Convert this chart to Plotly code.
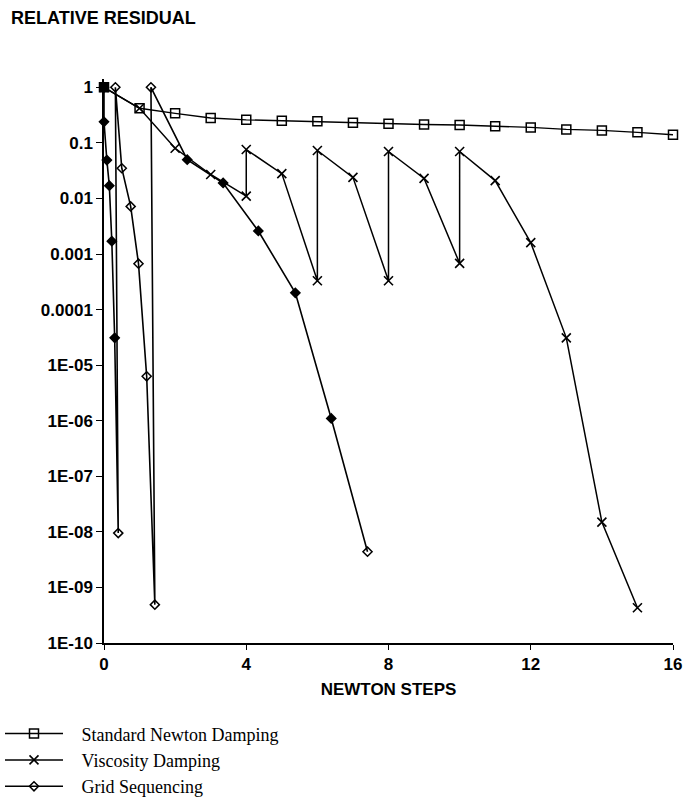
import plotly.graph_objects as go

# ---- data ----
newton_x = [0, 1, 2, 3, 4, 5, 6, 7, 8, 9, 10, 11, 12, 13, 14, 15, 16]
newton_y = [1.0, 0.42, 0.34, 0.28, 0.26, 0.25, 0.245, 0.23, 0.22, 0.215, 0.21,
            0.20, 0.19, 0.175, 0.168, 0.155, 0.14]

visc_x = [0, 1, 2, 3, 4, 4, 5, 6, 6, 7, 8, 8, 9, 10, 10, 11, 12, 13, 14, 15]
visc_y = [1.0, 0.42, 0.08, 0.027, 0.011, 0.076, 0.028, 0.00033, 0.073, 0.024,
          0.00033, 0.07, 0.023, 0.00068, 0.07, 0.021, 0.0016, 3.1e-5, 1.5e-8, 4.3e-10]

grid_x = [0, 0.0, 0.08, 0.15, 0.22, 0.3, 0.4, 0.32, 0.5, 0.75, 0.97, 1.2, 1.43,
          1.32, 2.34, 3.35, 4.34, 5.38, 6.39, 7.41]
grid_y = [1.0, 0.24, 0.049, 0.017, 0.0017, 3.1e-5, 9.5e-9, 1.0, 0.035, 0.0072,
          0.00067, 6.3e-6, 4.9e-10, 1.0, 0.05, 0.019, 0.0026, 0.0002, 1.1e-6, 4.4e-9]

x_ticks = [0, 4, 8, 12, 16]
y_tickvals = [1, 0.1, 0.01, 0.001, 0.0001, 1e-5, 1e-6, 1e-7, 1e-8, 1e-9, 1e-10]
y_ticktext = ["1", "0.1", "0.01", "0.001", "0.0001", "1E-05", "1E-06", "1E-07",
              "1E-08", "1E-09", "1E-10"]

series_names = ["Standard Newton Damping", "Viscosity Damping", "Grid Sequencing"]

SANS = "Liberation Sans, Arial, sans-serif"
SERIF = "Liberation Serif, Times New Roman, serif"
PAD = "\u00a0\u00a0\u00a0"

# ---- figure ----
fig = go.Figure()

grid_symbols = (["diamond-open"] + ["diamond"] * 5 + ["diamond-open"] + ["diamond-open"]
                + ["diamond-open"] * 4 + ["diamond-open"] + ["diamond-open"]
                + ["diamond"] * 5 + ["diamond-open"])

fig.add_trace(go.Scatter(
    x=grid_x, y=grid_y, mode="lines+markers", name=PAD + series_names[2],
    line=dict(color="black", width=1.6),
    marker=dict(symbol=grid_symbols, size=7, color="black",
                line=dict(color="black", width=1.5)),
    legendrank=3, cliponaxis=False,
))

fig.add_trace(go.Scatter(
    x=visc_x, y=visc_y, mode="lines+markers", name=PAD + series_names[1],
    line=dict(color="black", width=1.5),
    marker=dict(symbol="x-thin", size=9, color="black",
                line=dict(color="black", width=1.6)),
    legendrank=2, cliponaxis=False,
))

fig.add_trace(go.Scatter(
    x=newton_x, y=newton_y, mode="lines+markers", name=PAD + series_names[0],
    line=dict(color="black", width=1.4),
    marker=dict(symbol="square-open", size=9, color="black",
                line=dict(color="black", width=1.5)),
    legendrank=1, cliponaxis=False,
))

# overlapping start point (drawn filled in the original)
fig.add_trace(go.Scatter(
    x=newton_x[:1], y=newton_y[:1], mode="markers", showlegend=False,
    marker=dict(symbol="square", size=9, color="black"),
    cliponaxis=False, hoverinfo="skip",
))

fig.update_layout(
    width=685, height=811,
    margin=dict(l=104, r=12, t=79, b=168, autoexpand=False),
    paper_bgcolor="white", plot_bgcolor="white",
    showlegend=True,
    legend=dict(
        xref="container", yref="container",
        x=0.0, xanchor="left", y=0.118, yanchor="top",
        font=dict(family=SERIF, size=18, color="black"),
        bgcolor="rgba(0,0,0,0)", tracegroupgap=0, itemwidth=58,
        traceorder="normal", borderwidth=0,
    ),
    font=dict(family=SANS, color="black"),
    annotations=[
        dict(text="<b>RELATIVE RESIDUAL</b>", xref="paper", yref="paper",
             x=-0.167, y=1.108, xanchor="left", yanchor="middle",
             showarrow=False,
             font=dict(family=SANS, size=18, color="black")),
    ],
)

fig.update_xaxes(
    range=[0, 16], tickvals=x_ticks, ticktext=["<b>%d</b>" % v for v in x_ticks],
    showgrid=False, zeroline=False, showline=True, linecolor="black", linewidth=1.5,
    ticks="outside", ticklen=5, tickcolor="black", tickwidth=1.2,
    tickfont=dict(family=SANS, size=17, color="black"),
    title=dict(text="<b>NEWTON STEPS</b>", standoff=10,
               font=dict(family=SANS, size=17, color="black")),
)

fig.update_yaxes(
    type="log", range=[-10, 0.15], tickvals=y_tickvals,
    ticktext=["<b>%s</b>" % t for t in y_ticktext],
    showgrid=False, zeroline=False, showline=True, linecolor="black", linewidth=1.5,
    ticks="outside", ticklen=6, tickcolor="black", tickwidth=1.2,
    tickfont=dict(family=SANS, size=17, color="black"),
)

fig.write_html("out.html")
